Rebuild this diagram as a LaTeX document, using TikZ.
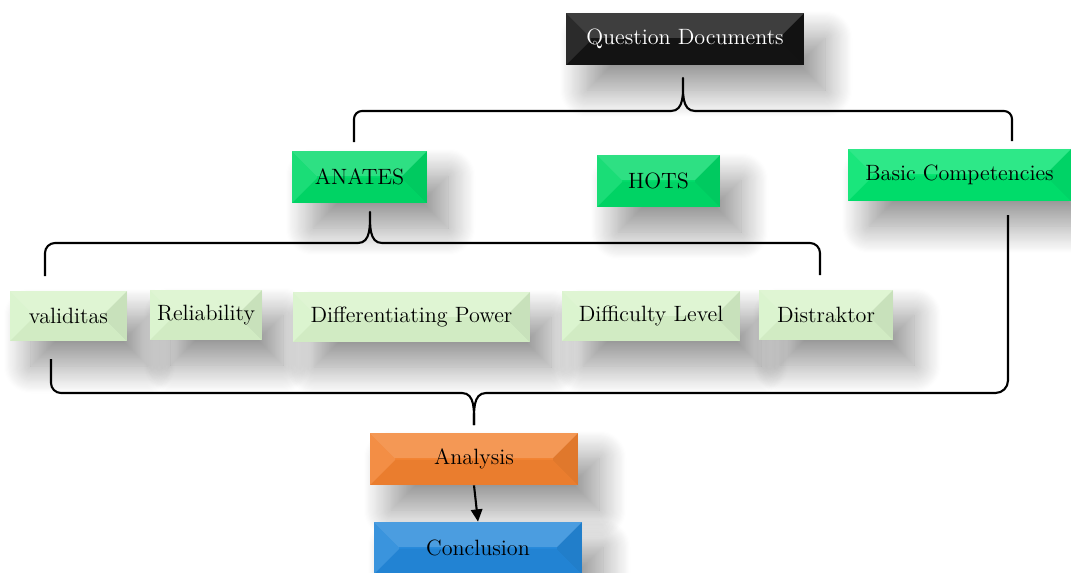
\documentclass[tikz,border=0pt]{standalone}
\usetikzlibrary{calc,shadows.blur,arrows.meta}
\definecolor{qdcol}{RGB}{20,20,20}
\definecolor{anacol}{RGB}{0,218,104}
\definecolor{bccol}{RGB}{0,228,110}
\definecolor{lgcol}{RGB}{216,243,202}
\definecolor{orcol}{RGB}{242,130,48}
\definecolor{blcol}{RGB}{36,136,218}
\tikzset{
  bevel/.style={fill=#1, inner sep=0pt, font=\fontsize{12.6}{14}\selectfont,
    blur shadow={shadow xshift=.42cm, shadow yshift=-.5cm,
      shadow blur radius=.55cm, shadow blur steps=25, shadow opacity=42},
    path picture={
      % top, left, right, bottom facets
      \fill[white,opacity=.18] (path picture bounding box.north west) -- (path picture bounding box.north east)
        -- ([shift={(-.5cm,-.5cm)}]path picture bounding box.north east)
        -- ([shift={(.5cm,-.5cm)}]path picture bounding box.north west) -- cycle;
      \fill[white,opacity=.1] (path picture bounding box.north west)
        -- ([shift={(.5cm,-.5cm)}]path picture bounding box.north west)
        -- ([shift={(.5cm,.5cm)}]path picture bounding box.south west)
        -- (path picture bounding box.south west) -- cycle;
      \fill[black,opacity=.07] (path picture bounding box.north east)
        -- ([shift={(-.5cm,-.5cm)}]path picture bounding box.north east)
        -- ([shift={(-.5cm,.5cm)}]path picture bounding box.south east)
        -- (path picture bounding box.south east) -- cycle;
      \fill[black,opacity=.03] (path picture bounding box.south west) -- (path picture bounding box.south east)
        -- ([shift={(-.5cm,.5cm)}]path picture bounding box.south east)
        -- ([shift={(.5cm,.5cm)}]path picture bounding box.south west) -- cycle;
    }},
  sz/.style 2 args={minimum width=#1*0.02cm, minimum height=#2*0.02cm},
  brace/.style={line width=1.2pt, line join=round},
}
\begin{document}
\begin{tikzpicture}[x=0.02cm,y=-0.02cm]
  \useasboundingbox (0,0) rectangle (1071,572);
  % boxes
  \node[bevel=qdcol, sz={238}{52}, text=white] (qd) at (685,39) {Question Documents};
  \node[bevel=anacol, sz={135}{52}] (anates) at (359.5,177) {ANATES};
  \node[bevel=anacol, sz={123}{52}] (hots) at (658.5,181) {HOTS};
  \node[bevel=bccol, sz={223}{52}] (bc) at (959.5,175) {Basic Competencies};
  \foreach \nm/\tx/\cx/\cy/\w in {val/validitas/68.5/316/117,
      rel/Reliability/206/315/112, dp/Differentiating Power/411.5/317/237,
      dl/Difficulty Level/651/316/178, dis/Distraktor/826/315/134}
    \node[bevel=lgcol, sz={\w}{50}] (\nm) at (\cx,\cy) {\tx};
  \node[bevel=orcol, sz={208}{52}] (an) at (474,459) {Analysis};
  \node[bevel=blcol, sz={208}{52}] (con) at (478,548) {Conclusion};

  % brace under Question Documents
  \coordinate (t1) at (354,142);
  \coordinate (t2) at (1012,141);
  \coordinate (tp) at (683,78);
  \draw[brace,rounded corners=.16cm] (t1) |- (671,111);
  \draw[brace] (671,111) to[out=0,in=-90] (tp) to[out=-90,in=180] (695,111);
  \draw[brace,rounded corners=.16cm] (695,111) -| (t2);

  % brace under ANATES
  \coordinate (a1) at (45,276);
  \coordinate (a2) at (820,275);
  \coordinate (ap) at (370,212);
  \draw[brace,rounded corners=.2cm] (a1) |- (358,243);
  \draw[brace] (358,243) to[out=0,in=-90] (ap) to[out=-90,in=180] (382,243);
  \draw[brace,rounded corners=.2cm] (382,243) -| (a2);

  % brace over Analysis
  \coordinate (b1) at (51,359);
  \coordinate (b2) at (1008,215);
  \coordinate (bp) at (474,425);
  \draw[brace,rounded corners=.2cm] (b1) |- (462,393);
  \draw[brace] (462,393) to[out=0,in=90] (bp);
  \draw[brace] (bp) to[out=90,in=180] (486,393);
  \draw[brace,rounded corners=.25cm] (486,393) -| (b2);

  \draw[line width=1.2pt,-{Triangle[length=7pt,width=6.5pt]}] (an.south) -- (con.north);
\end{tikzpicture}
\end{document}
